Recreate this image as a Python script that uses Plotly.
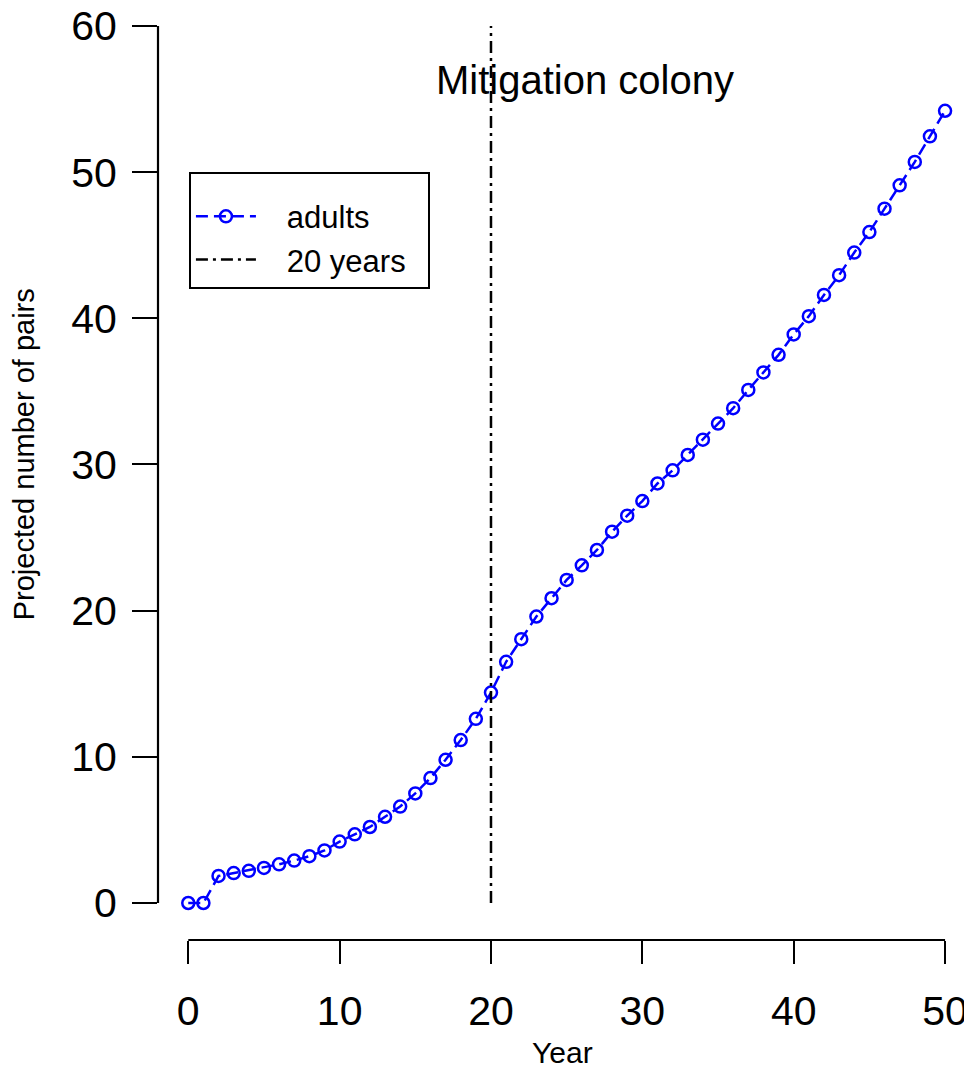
import plotly.graph_objects as go

years = list(range(0, 51))
adults = [0, 0, 1.85, 2.05, 2.2, 2.4, 2.65, 2.9, 3.2, 3.6,
          4.2, 4.7, 5.2, 5.9, 6.6, 7.5, 8.55, 9.8, 11.15, 12.6,
          14.4, 16.5, 18.05, 19.6, 20.85, 22.1, 23.1, 24.15, 25.4, 26.5,
          27.5, 28.7, 29.6, 30.65, 31.7, 32.8, 33.85, 35.1, 36.3, 37.5,
          38.9, 40.15, 41.6, 42.95, 44.5, 45.9, 47.5, 49.1, 50.7, 52.45,
          54.2]
vline_year = 20
x_ticks = [0, 10, 20, 30, 40, 50]
y_ticks = [0, 10, 20, 30, 40, 50, 60]

FONT = "Liberation Sans, Arial, Helvetica, sans-serif"
PAD = "&nbsp;&nbsp;&nbsp;"

fig = go.Figure()
fig.add_trace(go.Scatter(
    x=years, y=adults, mode="lines+markers", name=PAD + "adults",
    line=dict(color="#0000FF", width=2.5, dash="12px,6px"),
    marker=dict(symbol="circle-open", size=12, color="#0000FF",
                line=dict(width=2.5, color="#0000FF")),
))
fig.add_trace(go.Scatter(
    x=[vline_year, vline_year], y=[min(y_ticks), max(y_ticks)],
    mode="lines", name=PAD + "20 years&nbsp;&nbsp;",
    line=dict(color="black", width=2.5, dash="12px,5px,3px,5px"),
))

# R-style detached axis lines
fig.add_shape(type="line", xref="x", yref="paper", x0=min(x_ticks), x1=max(x_ticks),
              y0=0, y1=0, line=dict(color="black", width=2.2))
fig.add_shape(type="line", xref="paper", yref="y", x0=0, x1=0,
              y0=min(y_ticks), y1=max(y_ticks), line=dict(color="black", width=2.2))

fig.add_annotation(x=26.2, y=56.3, xref="x", yref="y", text="Mitigation colony",
                   showarrow=False, font=dict(size=40, color="black", family=FONT),
                   xanchor="center", yanchor="middle")
fig.add_annotation(x=24.7, y=-0.1212, xref="x", yref="paper", text="Year",
                   showarrow=False, font=dict(size=30, color="black", family=FONT),
                   xanchor="center", yanchor="middle")
fig.add_annotation(x=-0.1646, y=30.7, xref="paper", yref="y",
                   text="Projected number of pairs", textangle=-90,
                   showarrow=False, font=dict(size=29, color="black", family=FONT),
                   xanchor="center", yanchor="middle")

fig.update_layout(
    width=964, height=1064,
    margin=dict(l=150, r=0, t=0, b=132, pad=0, autoexpand=False),
    plot_bgcolor="white", paper_bgcolor="white",
    font=dict(family=FONT, color="black"),
    showlegend=True,
    legend=dict(x=0.038, y=0.824, xanchor="left", yanchor="top",
                bordercolor="black", borderwidth=2, bgcolor="white",
                font=dict(size=31, family=FONT, color="black"),
                title=dict(text=" ", font=dict(size=12)),
                itemwidth=60, tracegroupgap=0),
    xaxis=dict(range=[-2, 51.78], tickvals=x_ticks, ticks="outside", ticklen=23,
               tickwidth=2.2, tickcolor="black", showline=False, showgrid=False,
               zeroline=False, tickfont=dict(size=41, family=FONT, color="black"),
               ticklabelstandoff=12, ticklabeloverflow="allow", automargin=False),
    yaxis=dict(range=[-2.531, 61.23], tickvals=y_ticks, ticks="outside", ticklen=25,
               tickwidth=2.2, tickcolor="black", showline=False, showgrid=False,
               zeroline=False, tickfont=dict(size=41, family=FONT, color="black"),
               ticklabelstandoff=7, ticklabeloverflow="allow", automargin=False),
)

fig.write_html("out.html")
